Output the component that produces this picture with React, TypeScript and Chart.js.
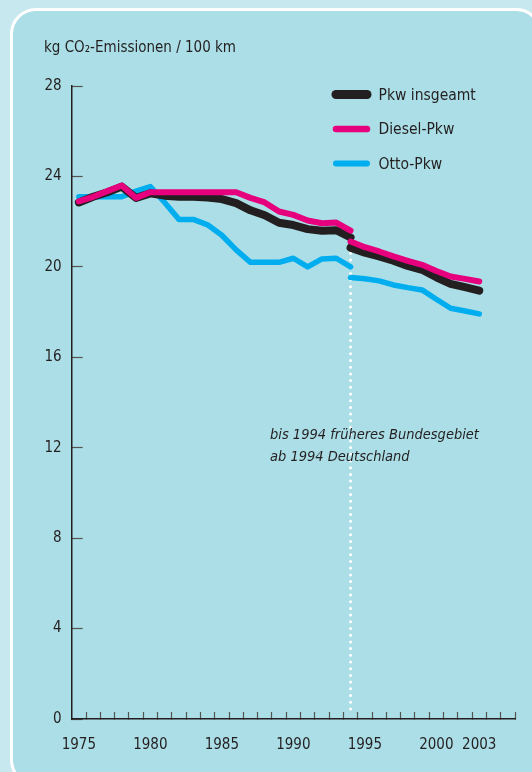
import { useEffect, useRef } from 'react';
import { Chart, registerables } from 'chart.js';

Chart.register(...registerables);

// ---- data ----
const yearsOld = [1975, 1976, 1977, 1978, 1979, 1980, 1981, 1982, 1983, 1984, 1985, 1986, 1987, 1988, 1989, 1990, 1991, 1992, 1993, 1994];
const yearsNew = [1994, 1995, 1996, 1997, 1998, 1999, 2000, 2001, 2002, 2003];

const pkwOld = [22.85, 23.1, 23.3, 23.55, 23.05, 23.25, 23.15, 23.1, 23.1, 23.07, 23.0, 22.82, 22.5, 22.28, 21.95, 21.85, 21.67, 21.6, 21.62, 21.3];
const dieselOld = [22.9, 23.1, 23.35, 23.6, 23.05, 23.3, 23.3, 23.3, 23.3, 23.3, 23.3, 23.3, 23.05, 22.85, 22.45, 22.3, 22.05, 21.93, 21.96, 21.6];
const ottoOld = [23.1, 23.1, 23.1, 23.1, 23.35, 23.55, 22.85, 22.1, 22.1, 21.86, 21.4, 20.75, 20.2, 20.2, 20.2, 20.38, 20.0, 20.35, 20.38, 20.0];

const pkwNew = [20.85, 20.63, 20.46, 20.27, 20.04, 19.87, 19.54, 19.25, 19.1, 18.95];
const dieselNew = [21.12, 20.87, 20.68, 20.46, 20.27, 20.09, 19.82, 19.57, 19.47, 19.35];
const ottoNew = [19.53, 19.47, 19.38, 19.2, 19.08, 18.98, 18.57, 18.17, 18.05, 17.92];

const dividerYear = 1994;
const dividerValues = [20.6, 0.3];

const seriesNames = ['Pkw insgeamt', 'Diesel-Pkw', 'Otto-Pkw'];
const xTickLabels = [1975, 1980, 1985, 1990, 1995, 2000, 2003];
const xMinorTicks = [1975.5, 1976.5, 1977.5, 1978.5, 1979.5, 1980.5, 1981.5, 1982.5, 1983.5, 1984.5, 1985.5, 1986.5, 1987.5, 1988.5, 1989.5, 1990.5, 1991.5, 1992.5, 1993.5, 1994.5, 1995.5, 1996.5, 1997.5, 1998.5, 1999.5, 2000.5, 2001.5, 2002.5, 2003.5, 2004.5, 2005.5];
const yTicks = [0, 4, 8, 12, 16, 20, 24, 28];
const titleText = 'kg CO\u2082-Emissionen / 100 km';
const noteLines = ['bis 1994 früheres Bundesgebiet', 'ab 1994 Deutschland'];

// ---- styles ----
const FONT = "'Liberation Sans Narrow', 'DejaVu Sans Condensed', 'Noto Sans', sans-serif";
const TEXT = '#231f20';
const BLACK = '#231f20';
const PINK = '#e6007e';
const BLUE = '#00aeef';
const seriesColors = [BLACK, PINK, BLUE];
const seriesWidths = [8, 6, 5.5];

const pts = (xs: number[], ys: number[]) => xs.map((x, i) => ({ x, y: ys[i] }));

const overlayPlugin = {
  id: 'overlay',
  afterDatasetsDraw(chart: any) {
    const ctx = chart.ctx as CanvasRenderingContext2D;
    ctx.save();
    // legend
    const rows = [94.5, 129, 163.5];
    seriesNames.forEach((name, i) => {
      ctx.beginPath();
      ctx.strokeStyle = seriesColors[i];
      ctx.lineWidth = seriesWidths[i] + (i === 0 ? 1 : 0.5);
      ctx.lineCap = 'round';
      ctx.moveTo(336, rows[i]);
      ctx.lineTo(367, rows[i]);
      ctx.stroke();
      ctx.fillStyle = TEXT;
      ctx.font = `15.5px ${FONT}`;
      ctx.textBaseline = 'middle';
      ctx.textAlign = 'left';
      ctx.fillText(name, 378.5, rows[i] + 1);
    });
    // note
    ctx.font = `italic 14.5px ${FONT}`;
    ctx.fillStyle = TEXT;
    ctx.textBaseline = 'middle';
    ctx.fillText(noteLines[0], 270, 435);
    ctx.fillText(noteLines[1], 270, 457);
    ctx.restore();
  },
};

export default function App() {
  const ref = useRef<HTMLCanvasElement | null>(null);

  useEffect(() => {
    if (!ref.current) return;
    const mk = (label: string, xs: number[], ys: number[], color: string, width: number) => ({
      label,
      data: pts(xs, ys),
      borderColor: color,
      backgroundColor: color,
      borderWidth: width,
      borderCapStyle: 'round' as const,
      borderJoinStyle: 'round' as const,
      pointRadius: 0,
      tension: 0,
      fill: false,
    });
    const chart = new Chart(ref.current, {
      type: 'line',
      data: {
        datasets: [
          mk(seriesNames[1], yearsOld, dieselOld, PINK, seriesWidths[1]),
          mk(seriesNames[1], yearsNew, dieselNew, PINK, seriesWidths[1]),
          mk(seriesNames[0], yearsOld, pkwOld, BLACK, seriesWidths[0]),
          mk(seriesNames[0], yearsNew, pkwNew, BLACK, seriesWidths[0]),
          mk(seriesNames[2], yearsOld, ottoOld, BLUE, seriesWidths[2]),
          mk(seriesNames[2], yearsNew, ottoNew, BLUE, seriesWidths[2]),
          {
            label: 'divider',
            data: dividerValues.map((v) => ({ x: dividerYear, y: v })),
            borderColor: '#ffffff',
            borderWidth: 3,
            borderDash: [0, 6.7],
            borderCapStyle: 'round' as const,
            pointRadius: 0,
            fill: false,
          },
        ],
      },
      options: {
        responsive: false,
        animation: false,
        events: [],
        layout: { padding: { left: 44, right: 17, top: 0, bottom: 0 } },
        plugins: {
          legend: { display: false },
          tooltip: { enabled: false },
          title: {
            display: true,
            text: titleText,
            align: 'start',
            color: TEXT,
            font: { family: FONT, size: 15, weight: 'normal' },
            padding: { top: 39, bottom: 29 },
          },
        },
        scales: {
          x: {
            type: 'linear',
            min: 1974.5,
            max: 2005.5,
            afterBuildTicks: (s: any) => {
              s.ticks = [...xTickLabels, ...xMinorTicks].sort((a, b) => a - b).map((v) => ({ value: v }));
            },
            afterFit: (s: any) => {
              s.height = 53;
              s.paddingLeft = 0;
              s.paddingRight = 0;
            },
            ticks: {
              autoSkip: false,
              maxRotation: 0,
              padding: 24,
              color: TEXT,
              font: { family: FONT, size: 15 },
              callback: (v: any) => (xTickLabels.includes(Number(v)) ? String(v) : ''),
            },
            grid: {
              drawOnChartArea: false,
              tickLength: -7,
              tickWidth: 1.2,
              tickColor: (c: any) => (c.tick && Number.isInteger(c.tick.value) ? 'rgba(0,0,0,0)' : '#555555'),
            },
            border: { color: BLACK, width: 1.5 },
          },
          y: {
            min: 0,
            max: 28,
            afterBuildTicks: (s: any) => {
              s.ticks = yTicks.map((v) => ({ value: v }));
            },
            afterFit: (s: any) => {
              s.width = 27.7;
            },
            ticks: {
              padding: 21,
              color: TEXT,
              font: { family: FONT, size: 15 },
            },
            grid: {
              drawOnChartArea: false,
              tickLength: -11,
              tickWidth: 1.2,
              tickColor: '#555555',
            },
            border: { color: BLACK, width: 1.5 },
          },
        },
      },
      plugins: [overlayPlugin],
    });
    return () => chart.destroy();
  }, []);

  return (
    <div style={{ position: 'fixed', left: 0, top: 0, width: 532, height: 772, background: '#c6e8ee', overflow: 'hidden' }}>
      <div
        style={{
          position: 'absolute',
          left: 10,
          top: 8,
          width: 532,
          height: 778,
          boxSizing: 'border-box',
          border: '3px solid #ffffff',
          borderRadius: 26,
          background: '#abdee6',
        }}
      />
      <canvas ref={ref} width={532} height={772} style={{ position: 'absolute', left: 0, top: 0, display: 'block' }} />
    </div>
  );
}
